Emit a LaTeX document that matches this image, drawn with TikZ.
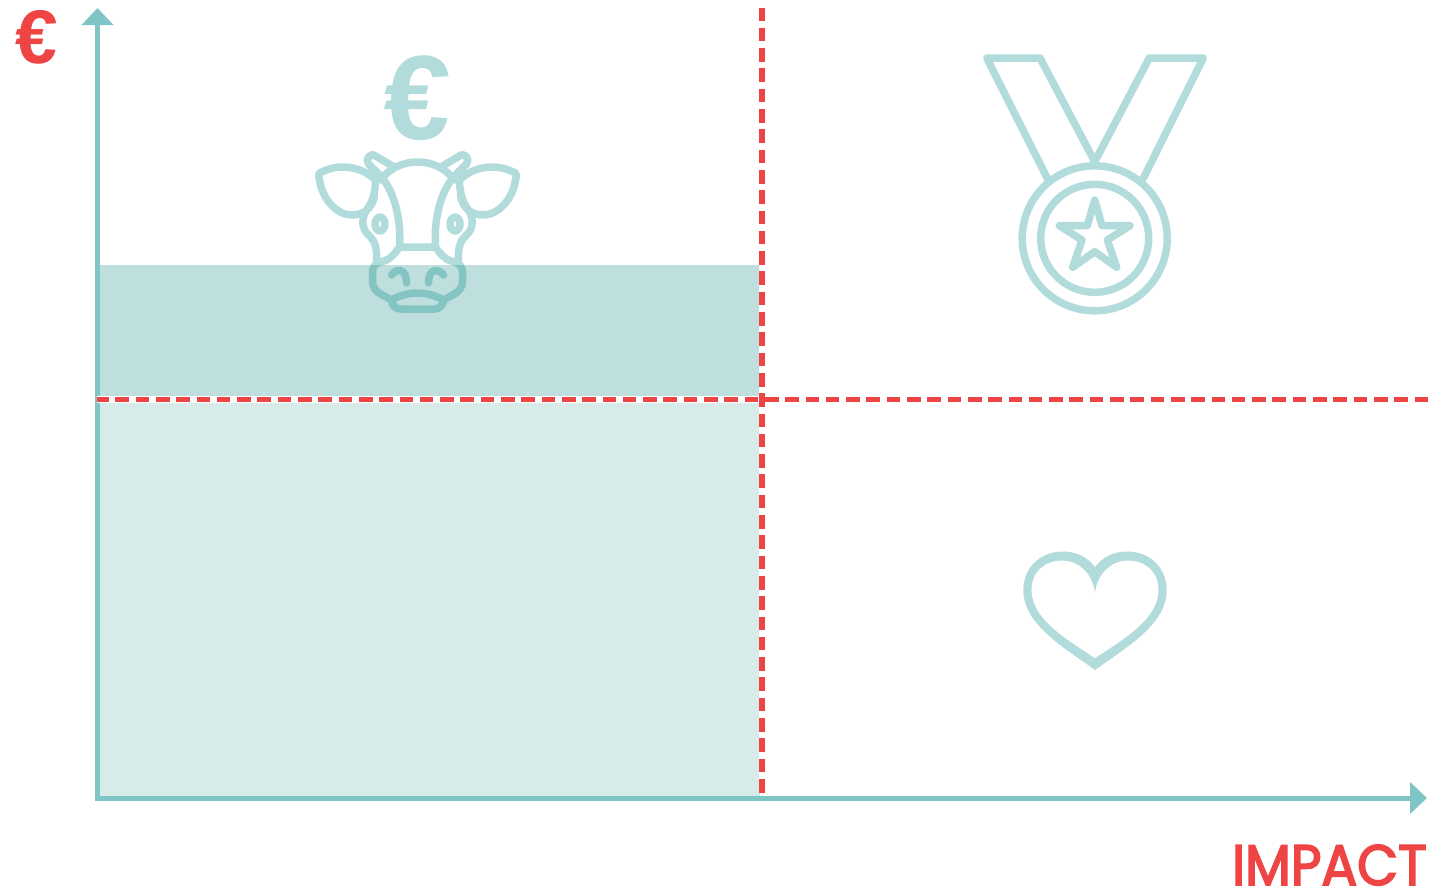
\documentclass[tikz,border=0pt]{standalone}
\usepackage{fontspec}
\usetikzlibrary{arrows.meta,positioning}
\newfontfamily\labelfont[FakeBold=3,FakeStretch=0.93]{Poppins}
\newfontfamily\eurofont[FakeSlant=0.04]{Liberation Sans}
\definecolor{axisteal}{RGB}{127,197,198}
\definecolor{iconteal}{RGB}{178,219,219}
\definecolor{cowteal}{RGB}{5,139,139}
\definecolor{softteal}{RGB}{215,235,233}
\definecolor{deepteal}{RGB}{190,223,221}
\definecolor{signalred}{RGB}{238,68,68}

\begin{document}
\begin{tikzpicture}[x=1pt, y=-1pt]
  \tikzstyle{axis}=[draw=axisteal, line width=5pt, {Triangle[length=17pt, width=31pt]}-{Triangle[length=17pt, width=31pt]}]
  \tikzstyle{limit}=[draw=signalred, line width=5pt, dash pattern=on 13.6pt off 6.7pt]
  \tikzstyle{halo}=[draw=white, line width=6.5pt]
  \tikzstyle{icon}=[draw=iconteal, line width=7.5pt, line join=round, line cap=round]
  \tikzstyle{cowline}=[draw=cowteal, draw opacity=.31, line width=7.5pt, line join=round, line cap=round]
  \useasboundingbox (0,0) rectangle (1432,892);

  \coordinate (origin) at (97.5,798);
  \coordinate (ytip) at (97.5,8);
  \coordinate (xtip) at (1427,798);
  \coordinate (vtop) at (762,7.5);
  \coordinate (vbot) at (762,793);
  \coordinate (hleft) at (97,399.5);
  \coordinate (hright) at (1428,399.5);

  % filled bands
  \fill[deepteal] (100,265) rectangle (760,399);
  \fill[softteal] (100,399) rectangle (760,795.5);

  % axes
  \draw[axis] (ytip) -- (origin) -- (xtip);

  % cow
  \begin{scope}[xshift=417.5pt]
    \draw[cowline]
      (-37,180) .. controls (-27,167) and (-13,162) .. (0,162) .. controls (13,162) and (27,167) .. (37,180)
      (-36,177) .. controls (-25,190) and (-16,215) .. (-18,247) -- (18,247) .. controls (16,215) and (25,190) .. (36,177)
      (-18,247) .. controls (-24,256) and (-30,261) .. (-37,262) .. controls (-42,263) and (-45,267) .. (-45,273) -- (-45,281) .. controls (-45,287) and (-42,291) .. (-37,294) -- (-26,300) .. controls (-26,305) and (-22,309) .. (-17,309) -- (17,309) .. controls (22,309) and (26,305) .. (26,300) -- (37,294) .. controls (42,291) and (45,287) .. (45,281) -- (45,273) .. controls (45,267) and (42,263) .. (37,262) .. controls (30,261) and (24,256) .. (18,247)
      (-42,183) .. controls (-43,196) and (-46,204) .. (-51,210) .. controls (-56,218) and (-56,228) .. (-50,234) .. controls (-44,240) and (-40,244) .. (-41,262)
      (42,183) .. controls (43,196) and (46,204) .. (51,210) .. controls (56,218) and (56,228) .. (50,234) .. controls (44,240) and (40,244) .. (41,262)
      (-26,300) .. controls (-17,295) and (-8,293) .. (0,293) .. controls (8,293) and (17,295) .. (26,300)
      (-26,275) .. controls (-21,268) and (-11,268) .. (-11,283)
      (26,275) .. controls (21,268) and (11,268) .. (11,283)
      (-42,180) .. controls (-52,170) and (-65,167) .. (-75,167) .. controls (-84,167) and (-92,170) .. (-98,173) .. controls (-99,174) and (-99,176) .. (-98,180) .. controls (-95,200) and (-80,215) .. (-66,215) .. controls (-55,215) and (-46,210) .. (-43,196)
      (42,180) .. controls (52,170) and (65,167) .. (75,167) .. controls (84,167) and (92,170) .. (98,173) .. controls (99,174) and (99,176) .. (98,180) .. controls (95,200) and (80,215) .. (66,215) .. controls (55,215) and (46,210) .. (43,196)
      (-37,176) -- (-49,164) .. controls (-53,159) and (-47,152) .. (-42,156) -- (-25,166)
      (37,176) -- (49,164) .. controls (53,159) and (47,152) .. (42,156) -- (25,166)
      (-37.5,224) ellipse [x radius=5, y radius=7]
      (37.5,224) ellipse [x radius=5, y radius=7];
  \end{scope}
  \node[text=iconteal, font=\eurofont\bfseries\fontsize{120}{120}\selectfont, inner sep=0pt] (eurocow) at (416,98) {€};

  % medal
  \draw[icon] (1094.7,238.3) circle (72.5);
  \draw[icon] (1094.7,238.3) circle (54);
  \draw[icon] (1047.3,178.3) -- (986.7,58) -- (1040,58) -- (1094.7,161.7) -- (1149.3,58) -- (1203.3,58) -- (1143.3,178.3);
  \draw[icon] (1094.7,200) -- (1102,225.7) -- (1130,225.7) -- (1107.3,240) -- (1116.7,267.3) -- (1094.7,251.7) -- (1072.7,267.3) -- (1082,240) -- (1059.3,225.7) -- (1087.3,225.7) -- cycle;

  % heart
  \fill[iconteal, even odd rule]
    (1095,567.3) .. controls (1087,556) and (1075,551.5) .. (1063,551.5) .. controls (1040,551.5) and (1023.3,568) .. (1023.3,590) .. controls (1023.3,625) and (1065,648) .. (1095,670)
    .. controls (1125,648) and (1166.7,625) .. (1166.7,590) .. controls (1166.7,568) and (1150,551.5) .. (1127,551.5) .. controls (1115,551.5) and (1103,556) .. (1095,567.3) -- cycle
    (1095,592.7) .. controls (1093,575) and (1080,560.5) .. (1062,560.5) .. controls (1044,560.5) and (1031.5,572) .. (1031.5,590) .. controls (1031.5,620) and (1068,640) .. (1095,658.3)
    .. controls (1122,640) and (1158.5,620) .. (1158.5,590) .. controls (1158.5,572) and (1146,560.5) .. (1128,560.5) .. controls (1110,560.5) and (1097,575) .. (1095,592.7) -- cycle;

  % limits
  \draw[halo] (hleft) -- (vbot |- hleft);
  \draw[halo] (vtop |- 0,265) -- (vbot);
  \draw[limit, dash phase=2pt] (hleft) -- (hright);
  \draw[limit, line width=6pt] (vtop) -- (vbot);

  % labels
  \node[text=signalred, font=\eurofont\bfseries\fontsize{76}{76}\selectfont, inner sep=0pt] (eurolabel) at (35.5,37) {€};
  \node[text=signalred, font=\labelfont\fontsize{57}{57}\selectfont, inner sep=0pt, anchor=base east] (impact) at (1427,885) {IMPACT};
\end{tikzpicture}
\end{document}
